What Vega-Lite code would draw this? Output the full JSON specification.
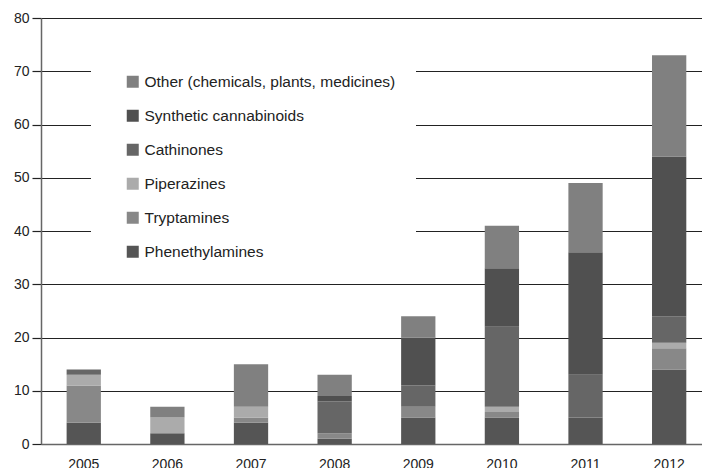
{
  "$schema": "https://vega.github.io/schema/vega-lite/v6.json",
  "width": 661,
  "height": 426,
  "autosize": {"type": "none"},
  "padding": {"left": 41, "top": 18, "right": 0, "bottom": 24},
  "background": "white",
  "config": {
    "view": {"stroke": null},
    "font": "Liberation Sans"
  },
  "data": {
    "values": [
      {"year": "2005", "group": "Phenethylamines", "n": 4, "k": 1},
      {"year": "2005", "group": "Tryptamines", "n": 7, "k": 2},
      {"year": "2005", "group": "Piperazines", "n": 2, "k": 3},
      {"year": "2005", "group": "Cathinones", "n": 1, "k": 4},
      {"year": "2005", "group": "Synthetic cannabinoids", "n": 0, "k": 5},
      {"year": "2005", "group": "Other (chemicals, plants, medicines)", "n": 0, "k": 6},
      {"year": "2006", "group": "Phenethylamines", "n": 2, "k": 1},
      {"year": "2006", "group": "Tryptamines", "n": 0, "k": 2},
      {"year": "2006", "group": "Piperazines", "n": 3, "k": 3},
      {"year": "2006", "group": "Cathinones", "n": 0, "k": 4},
      {"year": "2006", "group": "Synthetic cannabinoids", "n": 0, "k": 5},
      {"year": "2006", "group": "Other (chemicals, plants, medicines)", "n": 2, "k": 6},
      {"year": "2007", "group": "Phenethylamines", "n": 4, "k": 1},
      {"year": "2007", "group": "Tryptamines", "n": 1, "k": 2},
      {"year": "2007", "group": "Piperazines", "n": 2, "k": 3},
      {"year": "2007", "group": "Cathinones", "n": 0, "k": 4},
      {"year": "2007", "group": "Synthetic cannabinoids", "n": 0, "k": 5},
      {"year": "2007", "group": "Other (chemicals, plants, medicines)", "n": 8, "k": 6},
      {"year": "2008", "group": "Phenethylamines", "n": 1, "k": 1},
      {"year": "2008", "group": "Tryptamines", "n": 1, "k": 2},
      {"year": "2008", "group": "Piperazines", "n": 0, "k": 3},
      {"year": "2008", "group": "Cathinones", "n": 6, "k": 4},
      {"year": "2008", "group": "Synthetic cannabinoids", "n": 1, "k": 5},
      {"year": "2008", "group": "Other (chemicals, plants, medicines)", "n": 4, "k": 6},
      {"year": "2009", "group": "Phenethylamines", "n": 5, "k": 1},
      {"year": "2009", "group": "Tryptamines", "n": 2, "k": 2},
      {"year": "2009", "group": "Piperazines", "n": 0, "k": 3},
      {"year": "2009", "group": "Cathinones", "n": 4, "k": 4},
      {"year": "2009", "group": "Synthetic cannabinoids", "n": 9, "k": 5},
      {"year": "2009", "group": "Other (chemicals, plants, medicines)", "n": 4, "k": 6},
      {"year": "2010", "group": "Phenethylamines", "n": 5, "k": 1},
      {"year": "2010", "group": "Tryptamines", "n": 1, "k": 2},
      {"year": "2010", "group": "Piperazines", "n": 1, "k": 3},
      {"year": "2010", "group": "Cathinones", "n": 15, "k": 4},
      {"year": "2010", "group": "Synthetic cannabinoids", "n": 11, "k": 5},
      {"year": "2010", "group": "Other (chemicals, plants, medicines)", "n": 8, "k": 6},
      {"year": "2011", "group": "Phenethylamines", "n": 5, "k": 1},
      {"year": "2011", "group": "Tryptamines", "n": 0, "k": 2},
      {"year": "2011", "group": "Piperazines", "n": 0, "k": 3},
      {"year": "2011", "group": "Cathinones", "n": 8, "k": 4},
      {"year": "2011", "group": "Synthetic cannabinoids", "n": 23, "k": 5},
      {"year": "2011", "group": "Other (chemicals, plants, medicines)", "n": 13, "k": 6},
      {"year": "2012", "group": "Phenethylamines", "n": 14, "k": 1},
      {"year": "2012", "group": "Tryptamines", "n": 4, "k": 2},
      {"year": "2012", "group": "Piperazines", "n": 1, "k": 3},
      {"year": "2012", "group": "Cathinones", "n": 5, "k": 4},
      {"year": "2012", "group": "Synthetic cannabinoids", "n": 30, "k": 5},
      {"year": "2012", "group": "Other (chemicals, plants, medicines)", "n": 19, "k": 6}
    ]
  },
  "mark": {"type": "bar"},
  "encoding": {
    "x": {
      "field": "year",
      "type": "ordinal",
      "scale": {"paddingInner": 0.59, "paddingOuter": 0.247, "align": 0.62},
      "axis": {
        "title": null,
        "labelAngle": 0,
        "ticks": false,
        "domainColor": "#666666",
        "domainWidth": 1.5,
        "labelFontSize": 14,
        "labelColor": "#222222",
        "labelBaseline": "top",
        "labelPadding": 13,
        "grid": false
      }
    },
    "y": {
      "field": "n",
      "type": "quantitative",
      "stack": "zero",
      "scale": {"domain": [0, 80], "nice": false},
      "axis": {
        "title": null,
        "values": [0, 10, 20, 30, 40, 50, 60, 70, 80],
        "grid": true,
        "gridColor": "#222222",
        "gridWidth": 1.2,
        "gridOpacity": 1,
        "domainColor": "#666666",
        "domainWidth": 1.5,
        "tickColor": "#222222",
        "tickSize": 9,
        "tickWidth": 1.2,
        "labelFontSize": 14,
        "labelColor": "#222222",
        "labelPadding": 3
      }
    },
    "color": {
      "field": "group",
      "type": "nominal",
      "scale": {
        "domain": ["Other (chemicals, plants, medicines)", "Synthetic cannabinoids", "Cathinones", "Piperazines", "Tryptamines", "Phenethylamines"],
        "range": ["#808080", "#505050", "#666666", "#ababab", "#888888", "#555555"]
      },
      "legend": {
        "title": null,
        "orient": "none",
        "legendX": 50,
        "legendY": 36,
        "fillColor": "white",
        "padding": 20,
        "symbolOffset": 14,
        "symbolType": "square",
        "symbolSize": 144,
        "symbolStrokeWidth": 0,
        "symbolOpacity": 1,
        "rowPadding": 17,
        "labelOffset": 4,
        "labelFontSize": 15.5,
        "labelColor": "#222222",
        "labelLimit": 400
      }
    },
    "order": {"field": "k", "type": "quantitative", "sort": "ascending"}
  }
}
